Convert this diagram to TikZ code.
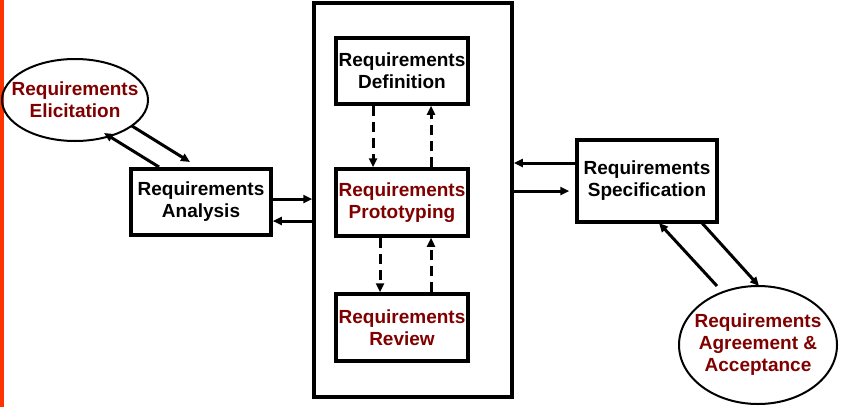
\documentclass[tikz,border=0pt]{standalone}
\usepackage{fontspec}
\setmainfont{Liberation Sans}
\usetikzlibrary{shapes.geometric,arrows.meta,calc}
\definecolor{maroon}{HTML}{800000}
\definecolor{sidebar}{HTML}{FF3300}
\tikzset{
  lbl/.style={inner sep=0pt, align=center, font=\fontsize{19}{22}\selectfont\bfseries},
  box/.style={draw, line width=3.5pt, rectangle, lbl},
  oval/.style={draw, line width=2pt, ellipse, inner sep=0pt},
  arr/.style={line width=3pt, -{Triangle[length=9pt,width=8pt]}},
  darr/.style={line width=3pt, dash pattern=on 10pt off 6pt, -{Triangle[length=9pt,width=8pt]}}
}
\begin{document}
\begin{tikzpicture}[x=1pt,y=-1pt]
\useasboundingbox (0,0) rectangle (842,407);
\fill[sidebar] (0,0) rectangle (4,407);
% big container
\node[box, minimum width=198pt, minimum height=394pt] (big) at (413,200) {};
% inner boxes
\node[box, minimum width=132pt, minimum height=66pt] (def) at (402,71) {Requirements\\Definition};
\node[box, minimum width=132pt, minimum height=67pt, text=maroon] (proto) at (402,202.5) {Requirements\\Prototyping};
\node[box, minimum width=132pt, minimum height=67pt, text=maroon] (rev) at (402,327.5) {Requirements\\Review};
% side boxes
\node[box, minimum width=140pt, minimum height=66pt] (ana) at (201,202) {Requirements\\Analysis};
\node[box, minimum width=140pt, minimum height=82pt] (spec) at (647,181) {Requirements\\Specification};
% ellipses
\node[oval, minimum width=146pt, minimum height=82pt] (eli) at (75,100) {};
\node[lbl, text=maroon] (eliT) at (eli.center) {Requirements\\Elicitation};
\node[oval, minimum width=158pt, minimum height=118pt] (agr) at (758,345) {};
\node[lbl, text=maroon] (agrT) at (agr.center) {Requirements\\Agreement \&\\Acceptance};
% dashed arrows inside
\draw[darr] ([xshift=-29pt]def.south) -- ([xshift=-29pt]proto.north);
\draw[darr] ([xshift=29pt]proto.north) -- ([xshift=29pt]def.south);
\draw[darr] ([xshift=-22pt]proto.south) -- ([xshift=-22pt]rev.north);
\draw[darr] ([xshift=29pt]rev.north) -- ([xshift=29pt]proto.south);
% analysis <-> big box
\draw[arr] ([yshift=3pt]ana.east) -- ([yshift=3pt]ana.east -| big.west);
\draw[arr] ([yshift=-19pt]ana.east -| big.west) -- ([yshift=-19pt]ana.east);
% big box <-> spec
\draw[arr] ([yshift=18pt]spec.west) -- ([yshift=18pt]spec.west -| big.east);
\draw[arr] ([yshift=-10pt]spec.west -| big.east) -- ([xshift=-6pt,yshift=-10pt]spec.west);
% elicitation <-> analysis
\draw[arr] ($(eli.center)+(57,26)$) -- ($(ana.center)+(-11,-40)$);
\draw[arr] ($(ana.center)+(-42,-35)$) -- ($(eli.center)+(29,33)$);
% spec <-> agreement
\draw[arr] ($(agr.center)+(-41,-59)$) -- ($(spec.center)+(12,42)$);
\draw[arr] ($(spec.center)+(55,42)$) -- ($(agr.center)+(1,-59)$);
\end{tikzpicture}
\end{document}
